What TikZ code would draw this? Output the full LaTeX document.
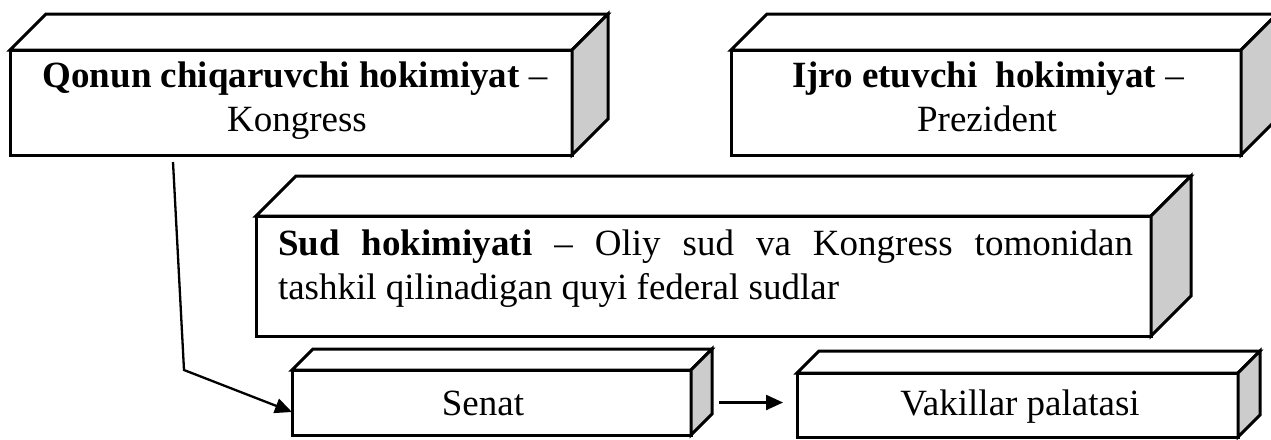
\documentclass[tikz,border=0pt]{standalone}
\usepackage{fontspec}
\setmainfont{Liberation Serif}
\usetikzlibrary{calc,arrows.meta}
\definecolor{sidegray}{RGB}{204,204,204}
\newcommand\cubefaces[2]{%
  \draw[face, fill=white] (#1.north west) -- ++(#2,-#2) -- ($(#1.north east)+(#2,-#2)$) -- (#1.north east) -- cycle;
  \draw[face, fill=sidegray] (#1.north east) -- ++(#2,-#2) -- ($(#1.south east)+(#2,-#2)$) -- (#1.south east) -- cycle;}
\begin{document}
\begin{tikzpicture}[x=1pt,y=-1pt,
  face/.style={draw=black, line width=3pt, line join=miter},
  front/.style={draw=black, fill=white, line width=3pt, inner sep=0pt, outer sep=0pt, rectangle},
  txt/.style={inner sep=0pt, outer sep=0pt, font=\fontsize{37}{44}\selectfont},
  conn/.style={draw=black, line width=2.3pt, -{Triangle[length=17pt,width=15pt]}}]
\useasboundingbox (0,0) rectangle (1271,439);
% boxes
\node[front, minimum width=562pt, minimum height=105pt] (qonun) at (291,102.5) {};
\cubefaces{qonun}{36}
\node[front, minimum width=510pt, minimum height=105pt] (ijro) at (986,102.5) {};
\cubefaces{ijro}{36}
\node[front, minimum width=895pt, minimum height=120pt] (sud) at (703.5,276) {};
\cubefaces{sud}{40}
\node[front, minimum width=399pt, minimum height=65pt] (senat) at (491.5,402.5) {};
\cubefaces{senat}{21}
\node[front, minimum width=441pt, minimum height=64pt] (vak) at (1017.5,405) {};
\cubefaces{vak}{22}
% texts
\node[txt, anchor=base] (q1) at (295,87) {\textbf{Qonun chiqaruvchi hokimiyat} –};
\node[txt, anchor=base] (q2) at (297,131) {Kongress};
\node[txt, anchor=base] (i1) at (988,87) {\textbf{Ijro etuvchi~ hokimiyat} –};
\node[txt, anchor=base] (i2) at (987,131) {Prezident};
\node[txt, anchor=base west] (s1) at (278,255) {\makebox[855pt][s]{\textbf{Sud hokimiyati} – Oliy sud va Kongress tomonidan}};
\node[txt, anchor=base west] (s2) at (278,299) {tashkil qilinadigan quyi federal sudlar};
\node[txt, anchor=base] (se) at (483,415) {Senat};
\node[txt, anchor=base] (va) at (1020,415) {Vakillar palatasi};
% connectors
\coordinate (c1) at (173,162);
\coordinate (c2) at (184,370);
\draw[conn] (c1) -- (c2) -- ($(senat.west)+(0,9.5)$);
\coordinate (a2e) at ([xshift=-14pt]vak.west);
\draw[conn] ([xshift=28pt]senat.east) -- (a2e |- senat.east);
\end{tikzpicture}
\end{document}
